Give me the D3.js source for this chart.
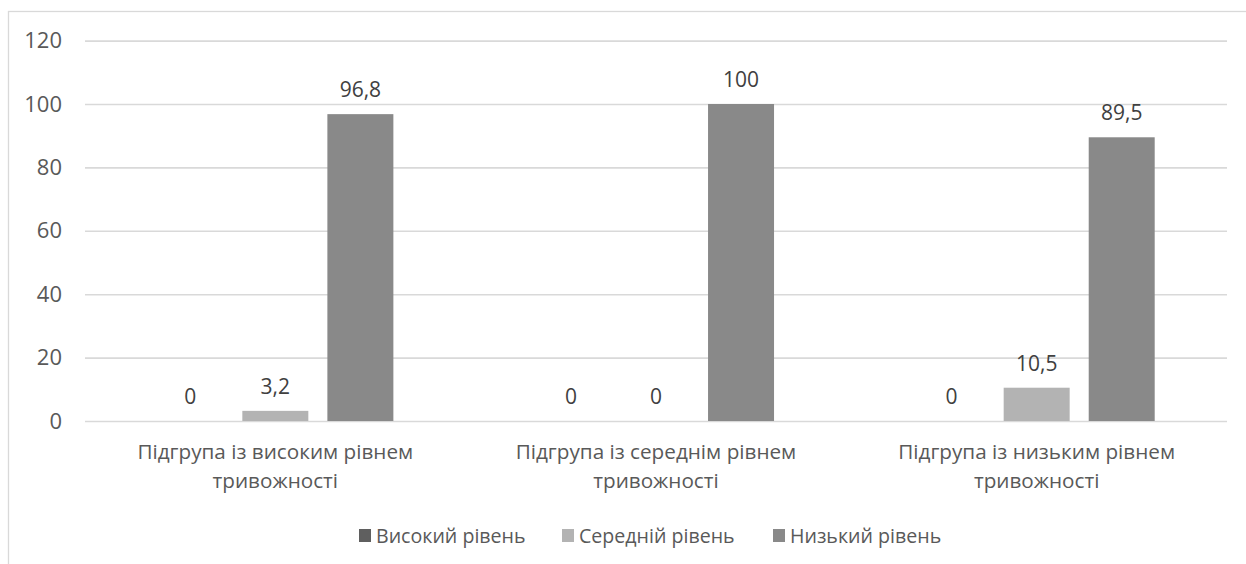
<!DOCTYPE html>
<html lang="uk">
<head>
<meta charset="utf-8">
<script src="https://cdn.jsdelivr.net/npm/d3@7"></script>
<style>
  html, body { margin: 0; padding: 0; background: #ffffff; }
  svg { display: block; }
  text { font-family: "Open Sans", "Noto Sans", sans-serif; }
</style>
</head>
<body>
<svg id="chart" width="1246" height="564"></svg>
<script>
// Subgroups on the x axis, each label split into two lines
const categories = [
  ["Підгрупа із високим рівнем", "тривожності"],
  ["Підгрупа із середнім рівнем", "тривожності"],
  ["Підгрупа із низьким рівнем", "тривожності"]
];
const seriesNames = ["Високий рівень", "Середній рівень", "Низький рівень"];
const highValues = [0, 0, 0];
const middleValues = [3.2, 0, 10.5];
const lowValues = [96.8, 100, 89.5];
const yTicks = [0, 20, 40, 60, 80, 100, 120];
const seriesColors = ["#5f5f5f", "#b3b3b3", "#898989"];

const seriesValues = [highValues, middleValues, lowValues];
const W = 1246, H = 564;
const plot = { left: 85, right: 1227, top: 40.6, bottom: 421 };

const svg = d3.select("#chart");

// chart frame
svg.append("rect")
  .attr("x", 8.5).attr("y", 11.5)
  .attr("width", W + 10).attr("height", H + 10)
  .attr("fill", "#ffffff")
  .attr("stroke", "#d9d9d9").attr("stroke-width", 1.3);

const x0 = d3.scaleBand()
  .domain(d3.range(categories.length))
  .range([plot.left, plot.right])
  .paddingInner(0).paddingOuter(0);

const groupPad = 72.3;
const x1 = d3.scaleBand()
  .domain(d3.range(seriesNames.length))
  .range([groupPad, x0.bandwidth() - groupPad])
  .paddingInner(0.224).paddingOuter(0);

const y = d3.scaleLinear()
  .domain([0, 120])
  .range([plot.bottom, plot.top]);

// horizontal gridlines + value axis labels
const yAxis = d3.axisLeft(y)
  .tickValues(yTicks)
  .tickSize(-(plot.right - plot.left))
  .tickPadding(23)
  .tickFormat(d3.format("d"));

const gy = svg.append("g")
  .attr("transform", `translate(${plot.left},0)`)
  .call(yAxis);
gy.select(".domain").remove();
gy.selectAll(".tick line")
  .attr("stroke", "#d9d9d9").attr("stroke-width", 1.6);
gy.selectAll(".tick text")
  .attr("fill", "#595959")
  .attr("font-size", 22)
  .attr("font-family", "Open Sans, sans-serif");

// bars
const groups = svg.append("g").selectAll("g")
  .data(categories.map((c, i) => i))
  .join("g")
  .attr("transform", i => `translate(${x0(i)},0)`);

groups.selectAll("rect")
  .data(i => seriesValues.map((vals, s) => ({ s, v: vals[i] })))
  .join("rect")
  .attr("x", d => x1(d.s))
  .attr("width", x1.bandwidth())
  .attr("y", d => y(d.v))
  .attr("height", d => y(0) - y(d.v))
  .attr("fill", d => seriesColors[d.s]);

// value labels above the bars
const fmt = v => String(v).replace(".", ",");
groups.selectAll("text.val")
  .data(i => seriesValues.map((vals, s) => ({ s, v: vals[i] })))
  .join("text")
  .attr("class", "val")
  .attr("x", d => x1(d.s) + x1.bandwidth() / 2)
  .attr("y", d => y(d.v) - 17)
  .attr("text-anchor", "middle")
  .attr("fill", "#404040")
  .attr("font-size", 21)
  .text(d => fmt(d.v));

// category labels
const catLabels = svg.append("g").selectAll("text")
  .data(categories)
  .join("text")
  .attr("text-anchor", "middle")
  .attr("fill", "#595959")
  .attr("font-size", 20.7)
  .attr("x", (d, i) => x0(i) + x0.bandwidth() / 2)
  .attr("y", 459);
catLabels.selectAll("tspan")
  .data(d => d)
  .join("tspan")
  .attr("x", function () { return d3.select(this.parentNode).attr("x"); })
  .attr("dy", (d, i) => i === 0 ? 0 : 29)
  .text(d => d);

// legend
const legendX = [359, 562, 773];
const legend = svg.append("g").selectAll("g")
  .data(seriesNames)
  .join("g")
  .attr("transform", (d, i) => `translate(${legendX[i]},529)`);
legend.append("rect")
  .attr("width", 12).attr("height", 13)
  .attr("fill", (d, i) => seriesColors[i]);
legend.append("text")
  .attr("x", 17).attr("y", 13.5)
  .attr("fill", "#595959")
  .attr("font-size", 19.6)
  .text(d => d);
</script>
</body>
</html>
